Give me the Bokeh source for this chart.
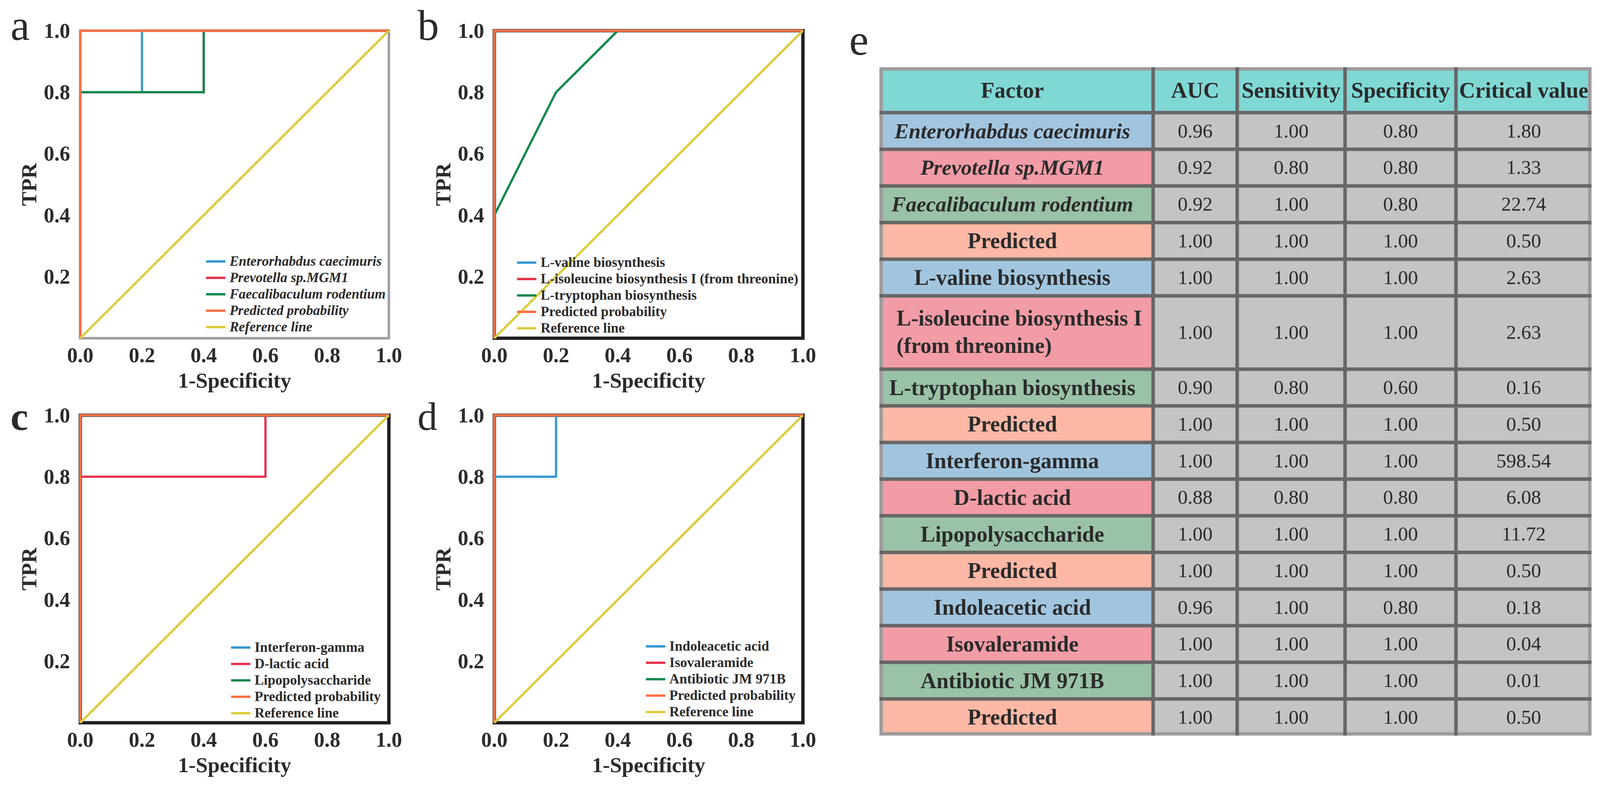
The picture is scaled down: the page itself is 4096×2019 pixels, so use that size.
from bokeh.plotting import figure
from bokeh.models import Range1d, FixedTicker, Legend, LegendItem
from bokeh.layouts import row, column
from bokeh.embed import file_html
from bokeh.resources import INLINE
from bokeh.core.properties import value

# ---------------- data ----------------
x_ticks = [0.0, 0.2, 0.4, 0.6, 0.8, 1.0]
x_tick_labels = ["0.0", "0.2", "0.4", "0.6", "0.8", "1.0"]
y_ticks = [0.2, 0.4, 0.6, 0.8, 1.0]
y_tick_labels = ["0.2", "0.4", "0.6", "0.8", "1.0"]
x_label = "1-Specificity"
y_label = "TPR"

a_names = ["Enterorhabdus caecimuris", "Prevotella sp.MGM1", "Faecalibaculum rodentium",
           "Predicted probability", "Reference line"]
a_fpr = [[0, 0, 0.2, 0.2, 1], [0, 0, 0.4, 0.4, 1], [0, 0, 0.4, 0.4, 1], [0, 0, 1], [0, 1]]
a_tpr = [[0, 0.8, 0.8, 1, 1], [0, 0.8, 0.8, 1, 1], [0, 0.8, 0.8, 1, 1], [0, 1, 1], [0, 1]]

b_names = ["L-valine biosynthesis", "L-isoleucine biosynthesis I (from threonine)",
           "L-tryptophan biosynthesis", "Predicted probability", "Reference line"]
b_fpr = [[0, 0, 1], [0, 0, 1], [0, 0, 0.2, 0.4, 1], [0, 0, 1], [0, 1]]
b_tpr = [[0, 1, 1], [0, 1, 1], [0, 0.4, 0.8, 1, 1], [0, 1, 1], [0, 1]]

c_names = ["Interferon-gamma", "D-lactic acid", "Lipopolysaccharide",
           "Predicted probability", "Reference line"]
c_fpr = [[0, 0, 1], [0, 0, 0.6, 0.6, 1], [0, 0, 1], [0, 0, 1], [0, 1]]
c_tpr = [[0, 1, 1], [0, 0.8, 0.8, 1, 1], [0, 1, 1], [0, 1, 1], [0, 1]]

d_names = ["Indoleacetic acid", "Isovaleramide", "Antibiotic JM 971B",
           "Predicted probability", "Reference line"]
d_fpr = [[0, 0, 0.2, 0.2, 1], [0, 0, 1], [0, 0, 1], [0, 0, 1], [0, 1]]
d_tpr = [[0, 0.8, 0.8, 1, 1], [0, 1, 1], [0, 1, 1], [0, 1, 1], [0, 1]]

table_headers = ["Factor", "AUC", "Sensitivity", "Specificity", "Critical value"]
factors = ["Enterorhabdus caecimuris", "Prevotella sp.MGM1", "Faecalibaculum rodentium", "Predicted",
           "L-valine biosynthesis", "L-isoleucine biosynthesis I\n(from threonine)",
           "L-tryptophan biosynthesis", "Predicted",
           "Interferon-gamma", "D-lactic acid", "Lipopolysaccharide", "Predicted",
           "Indoleacetic acid", "Isovaleramide", "Antibiotic JM 971B", "Predicted"]
auc = [0.96, 0.92, 0.92, 1.00, 1.00, 1.00, 0.90, 1.00, 1.00, 0.88, 1.00, 1.00, 0.96, 1.00, 1.00, 1.00]
sensitivity = [1.00, 0.80, 1.00, 1.00, 1.00, 1.00, 0.80, 1.00, 1.00, 0.80, 1.00, 1.00, 1.00, 1.00, 1.00, 1.00]
specificity = [0.80, 0.80, 0.80, 1.00, 1.00, 1.00, 0.60, 1.00, 1.00, 0.80, 1.00, 1.00, 0.80, 1.00, 1.00, 1.00]
critical = [1.80, 1.33, 22.74, 0.50, 2.63, 2.63, 0.16, 0.50, 598.54, 6.08, 11.72, 0.50, 0.18, 0.04, 0.01, 0.50]
species = {"Enterorhabdus caecimuris", "Prevotella sp.MGM1", "Faecalibaculum rodentium"}

# ---------------- style ----------------
S = 0.969
FONT = "Liberation Serif"
TXT = "#2b2b2b"
series_colors = ["#3597d3", "#e6334b", "#108a4c", "#fc7044", "#dccb3b"]
series_widths = [5.8, 5.8, 5.8, 6.2, 5.8]
FW, FH, PAD = 790, 787, 6


def roc(names, fprs, tprs, W, H, bl, bt, frame_color, frame_w, leg_loc, italic, letter, lxy, lsize,
        letter_bold):
    dx, dy = PAD / FW, PAD / FH
    fw, fh = FW + 2 * PAD, FH + 2 * PAD
    p = figure(width=W, height=H, x_range=Range1d(x_ticks[0] - dx, x_ticks[-1] + dx),
               y_range=Range1d(x_ticks[0] - dy, x_ticks[-1] + dy),
               output_backend="svg", toolbar_location=None,
               min_border_left=bl, min_border_top=bt,
               min_border_right=W - bl - fw, min_border_bottom=H - bt - fh)
    p.outline_line_color = None
    p.grid.visible = False
    # plot box
    p.quad(left=[x_ticks[0]], right=[x_ticks[-1]], bottom=[x_ticks[0]], top=[x_ticks[-1]],
           fill_color=None, line_color=frame_color, line_width=frame_w, line_join="miter")
    rs = []
    for i, (fx, ty) in enumerate(zip(fprs, tprs)):
        r = p.line(fx, ty, line_color=series_colors[i], line_width=series_widths[i], line_join="miter")
        rs.append(r)
    for ax in (p.xaxis, p.yaxis):
        ax.axis_line_color = None
        ax.major_tick_line_color = None
        ax.minor_tick_line_color = None
        ax.major_label_text_font = FONT
        ax.major_label_text_font_style = "bold"
        ax.major_label_text_font_size = "54px"
        ax.major_label_text_color = TXT
        ax.axis_label_text_font = FONT
        ax.axis_label_text_font_style = "bold"
        ax.axis_label_text_font_size = "55px"
        ax.axis_label_text_color = TXT
    p.xaxis.ticker = FixedTicker(ticks=x_ticks)
    p.xaxis.major_label_overrides = {t: s for t, s in zip(x_ticks, x_tick_labels)}
    p.yaxis.ticker = FixedTicker(ticks=y_ticks)
    p.yaxis.major_label_overrides = {t: s for t, s in zip(y_ticks, y_tick_labels)}
    p.xaxis.axis_label = x_label
    p.yaxis.axis_label = y_label
    p.xaxis.major_label_standoff = 13
    p.xaxis.axis_label_standoff = 13
    p.yaxis.major_label_standoff = 14
    p.yaxis.axis_label_standoff = 4

    items = [LegendItem(label=value(n), renderers=[r]) for n, r in zip(names, rs)]
    leg = Legend(items=items, location=leg_loc, orientation="vertical",
                 label_text_font=FONT, label_text_font_size="35.5px",
                 label_text_font_style="bold italic" if italic else "bold",
                 label_text_color=TXT, glyph_width=50, glyph_height=39, label_height=39,
                 spacing=0, padding=0, margin=0, label_standoff=11,
                 background_fill_alpha=0, border_line_alpha=0)
    p.add_layout(leg)
    # panel letter: lxy = (left edge, baseline) in data units; anchor placed at text middle
    mid = 0.3375 * lsize / FH
    p.text(x=[lxy[0]], y=[lxy[1] + mid], text=[letter], text_font=value(FONT),
           text_font_size=f"{lsize}px", text_font_style="bold" if letter_bold else "normal",
           text_color=TXT, text_align="left", text_baseline="middle", level="overlay")
    return p


TOP_H = 1006
BOT_H = 2019 - TOP_H
BL_L, BL_R, BT_T, BT_B = 199, 208, 72, 50
pa = roc(a_names, a_fpr, a_tpr, 1051, TOP_H, BL_L, BT_T, "#a09e9e", 6.3, (327.7, 13.6), True, "a",
         (-0.2258, 0.970), 110, False)
pb = roc(b_names, b_fpr, b_tpr, 1081, TOP_H, BL_R, BT_T, "#231f20", 8.7, (64.1, 10.7), False, "b",
         (-0.249, 0.970), 110, False)
pc = roc(c_names, c_fpr, c_tpr, 1051, BOT_H, BL_L, BT_B, "#231f20", 8.7, (391.7, 10.0), False, "c",
         (-0.2258, 0.953), 102, True)
pd_ = roc(d_names, d_fpr, d_tpr, 1081, BOT_H, BL_R, BT_B, "#231f20", 8.7, (393.6, 12.7), False, "d",
          (-0.249, 0.953), 102, False)

# ---------------- table ----------------
TW, TH = 4096 - 2132, 2019
tp = figure(width=TW, height=TH, x_range=Range1d(2132 / S, 4096 / S), y_range=Range1d(2019 / S, 0),
            output_backend="svg", toolbar_location=None, min_border=0,
            x_axis_location=None, y_axis_location=None)
tp.grid.visible = False
tp.outline_line_color = None

col_edges = [2323, 3046, 3268, 3553, 3846, 4204]
t_top, head_bottom, t_bottom = 177, 297, 1942
units = [2 if "\n" in f else 1 for f in factors]
unit = (t_bottom - head_bottom) / sum(units)
row_edges = [head_bottom]
for u in units:
    row_edges.append(row_edges[-1] + u * unit)

group_cols = ["#a2c5df", "#f29ca6", "#9ac2a6", "#fdb8a6"]
HEAD_COL = "#80d8d4"
CELL_COL = "#c3c4c6"

L, R, T, B, C = [], [], [], [], []
for j in range(5):
    L.append(col_edges[j]); R.append(col_edges[j + 1]); T.append(t_top); B.append(head_bottom); C.append(HEAD_COL)
for i in range(len(factors)):
    for j in range(5):
        L.append(col_edges[j]); R.append(col_edges[j + 1])
        T.append(row_edges[i]); B.append(row_edges[i + 1])
        C.append(group_cols[i % 4] if j == 0 else CELL_COL)
tp.quad(left=L, right=R, top=T, bottom=B, fill_color=C, line_color=None)

bw = 8.8
tp.quad(left=[col_edges[0] + 4.5], right=[col_edges[-1] - 4.5], top=[t_top + 4.5], bottom=[t_bottom - 4.5],
        fill_color=None, line_color="#9e9c9c", line_width=bw, line_join="miter")
hy = row_edges[:-1]
tp.segment(x0=[col_edges[0]] * len(hy), x1=[col_edges[-1]] * len(hy), y0=hy, y1=hy,
           line_color="#686666", line_width=9.0)
vx = col_edges[1:-1]
tp.segment(x0=vx, x1=vx, y0=[t_top] * len(vx), y1=[t_bottom] * len(vx),
           line_color="#686666", line_width=9.0)

fac_cx = 2674
col_cx = [fac_cx] + [(col_edges[j] + col_edges[j + 1]) / 2 for j in range(1, 5)]
head_y = (t_top + head_bottom) / 2
tp.text(x=col_cx, y=[head_y] * 5, text=table_headers, text_font=value(FONT), text_font_size="57px",
        text_font_style="bold", text_color=TXT, text_align="center", text_baseline="middle")

fx_n, fy_n, ft_n = [], [], []
fx_i, fy_i, ft_i = [], [], []
ml_x, ml_y, ml_t = [], [], []
vx_, vy_, vt_ = [], [], []
for i, f in enumerate(factors):
    cy = (row_edges[i] + row_edges[i + 1]) / 2
    if "\n" in f:
        lines = f.split("\n")
        n = len(lines)
        for k, ln in enumerate(lines):
            ml_x.append(2368); ml_y.append(cy + (k - (n - 1) / 2) * 72 - 2); ml_t.append(ln)
    elif f in species:
        fx_i.append(fac_cx); fy_i.append(cy); ft_i.append(f)
    else:
        fx_n.append(fac_cx); fy_n.append(cy); ft_n.append(f)
    for j, vals in enumerate([auc, sensitivity, specificity, critical]):
        vx_.append(col_cx[j + 1]); vy_.append(cy); vt_.append(f"{vals[i]:.2f}")

tp.text(x=fx_n, y=fy_n, text=ft_n, text_font=value(FONT), text_font_size="56px",
        text_font_style="bold", text_color=TXT, text_align="center", text_baseline="middle")
tp.text(x=fx_i, y=fy_i, text=ft_i, text_font=value(FONT), text_font_size="55px",
        text_font_style="bold italic", text_color=TXT, text_align="center", text_baseline="middle")
tp.text(x=ml_x, y=ml_y, text=ml_t, text_font=value(FONT), text_font_size="56px",
        text_font_style="bold", text_color=TXT, text_align="left", text_baseline="middle")
tp.text(x=vx_, y=vy_, text=vt_, text_font=value(FONT), text_font_size="51px",
        text_font_style="normal", text_color=TXT, text_align="center", text_baseline="middle")
E_PX = 112
tp.text(x=[2243], y=[145 - 0.3375 * E_PX / S], text=["e"], text_font=value(FONT),
        text_font_size=f"{E_PX}px", text_color=TXT, text_align="left", text_baseline="middle")

layout = row(column(row(pa, pb), row(pc, pd_)), tp)
open("out.html", "w").write(file_html(layout, INLINE))
